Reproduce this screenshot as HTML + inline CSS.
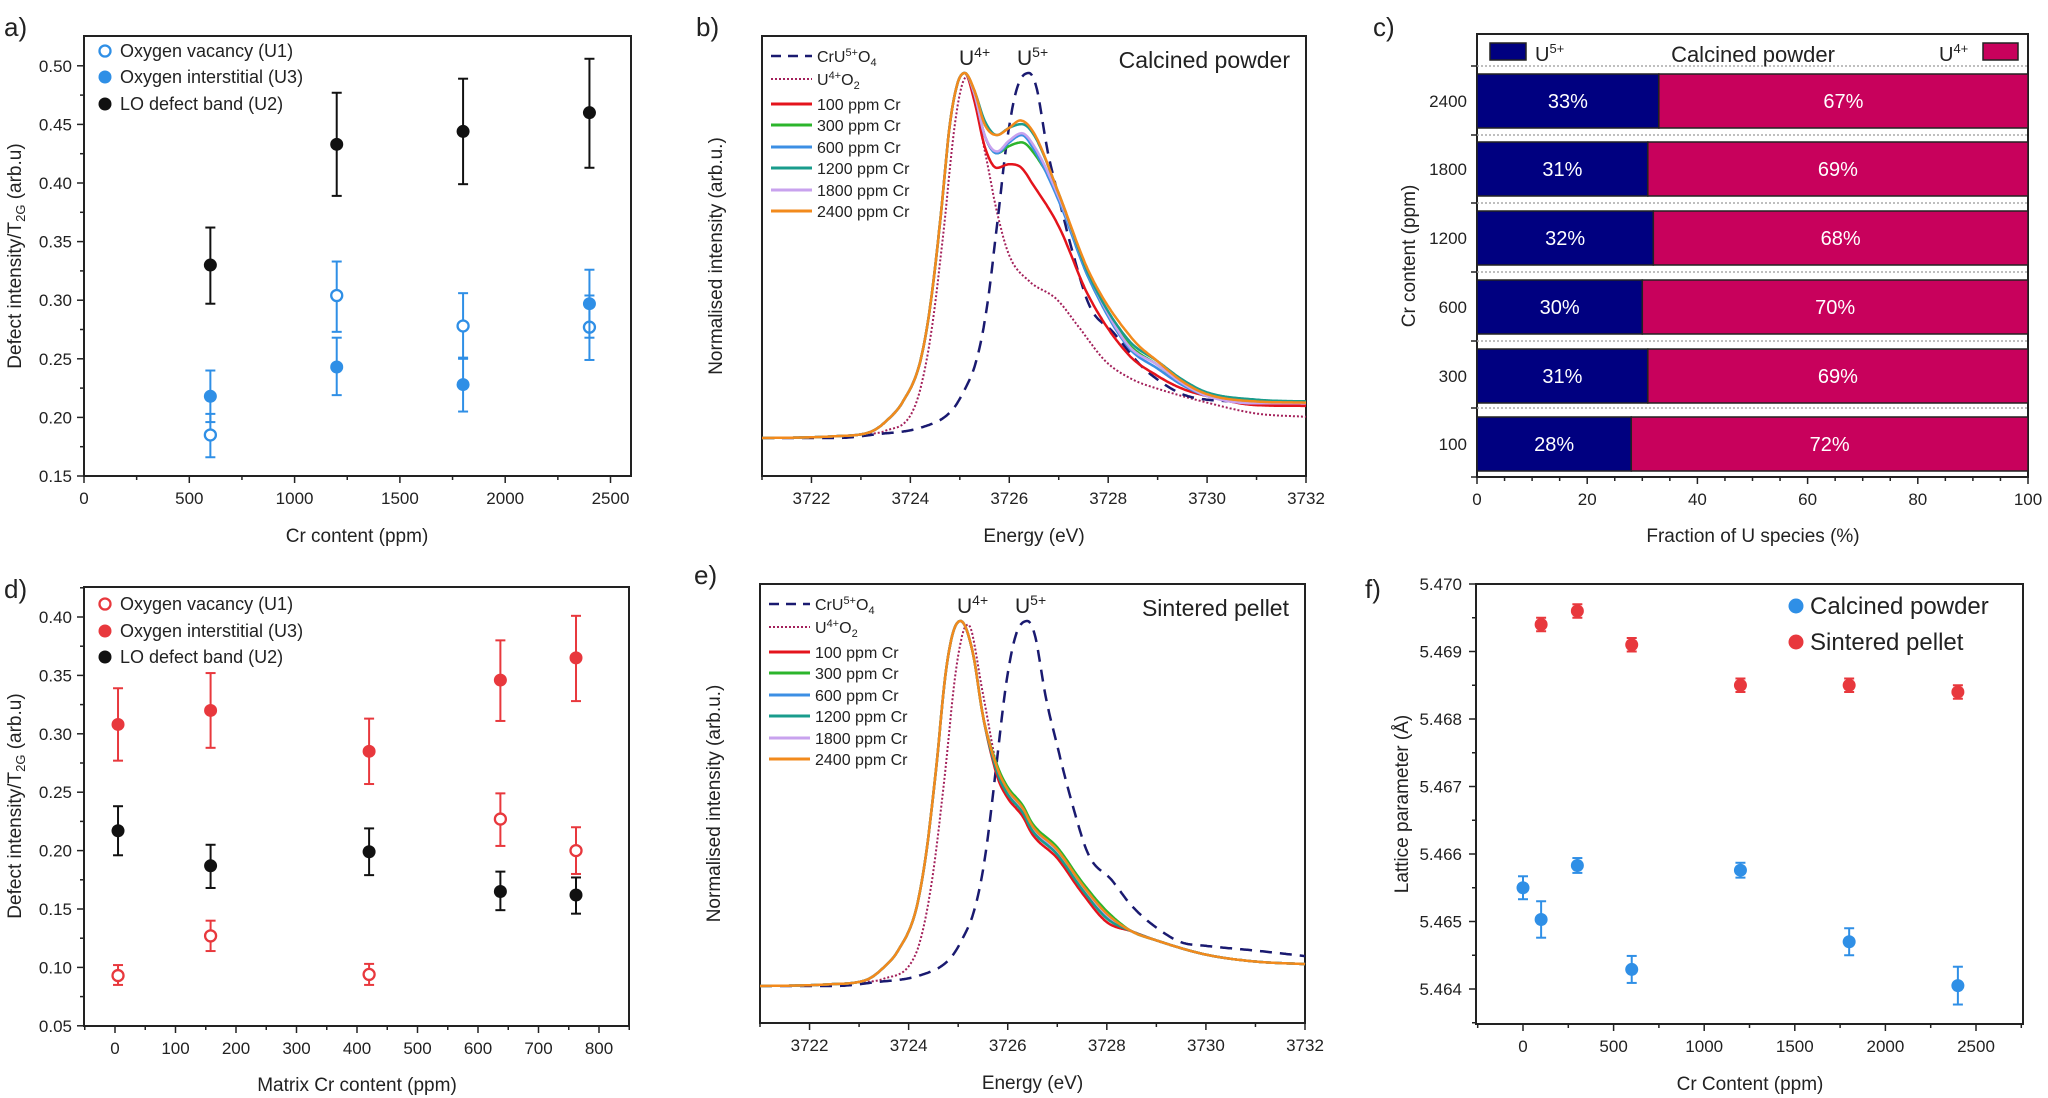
<!DOCTYPE html>
<html><head><meta charset="utf-8"><style>
html,body{margin:0;padding:0;background:#fff;overflow:hidden}
svg{display:block}
text{font-family:"Liberation Sans Narrow","Liberation Sans",Arial,sans-serif;fill:#222}
</style></head><body>
<svg id="s" width="2048" height="1098" viewBox="0 0 2048 1098" xmlns="http://www.w3.org/2000/svg"></svg>
<script>
var o=[];
function L(x1,y1,x2,y2,c,w,d){o.push('<line x1="'+x1+'" y1="'+y1+'" x2="'+x2+'" y2="'+y2+'" stroke="'+(c||'#222')+'" stroke-width="'+(w||1.5)+'"'+(d?' stroke-dasharray="'+d+'"':'')+'/>');}
function T(x,y,s,sz,anc,extra){o.push('<text x="'+x+'" y="'+y+'" font-size="'+sz+'" text-anchor="'+(anc||'start')+'" '+(extra||'')+'>'+s+'</text>');}
function R(x,y,w,h,f,st){o.push('<rect x="'+x+'" y="'+y+'" width="'+w+'" height="'+h+'" fill="'+f+'"'+(st?' stroke="'+st+'" stroke-width="1.5"':'')+'/>');}
function box(l,t,r,b){o.push('<rect x="'+l+'" y="'+t+'" width="'+(r-l)+'" height="'+(b-t)+'" fill="none" stroke="#222" stroke-width="2"/>');}
function C(x,y,r,c,open){ if(open) o.push('<circle cx="'+x+'" cy="'+y+'" r="'+(r-1)+'" fill="#fff" stroke="'+c+'" stroke-width="2.3"/>'); else o.push('<circle cx="'+x+'" cy="'+y+'" r="'+r+'" fill="'+c+'"/>');}
function EB(x,y1,y2,c){L(x,y1,x,y2,c,2);L(x-5,y1,x+5,y1,c,2);L(x-5,y2,x+5,y2,c,2);}
function mono(pts){var n=pts.length,xs=pts.map(p=>p[0]),ys=pts.map(p=>p[1]),d=[],m=[];
for(var i=0;i<n-1;i++)d.push((ys[i+1]-ys[i])/(xs[i+1]-xs[i]));
m[0]=d[0];m[n-1]=d[n-2];for(i=1;i<n-1;i++){m[i]=(d[i-1]*d[i]<=0)?0:(d[i-1]+d[i])/2;}
for(i=0;i<n-1;i++){if(d[i]==0){m[i]=0;m[i+1]=0;continue;}var a=m[i]/d[i],b=m[i+1]/d[i],h=a*a+b*b;if(h>9){var t=3/Math.sqrt(h);m[i]=t*a*d[i];m[i+1]=t*b*d[i];}}
return function(x){var k=0;while(k<n-2&&x>xs[k+1])k++;var hh=xs[k+1]-xs[k],t=(x-xs[k])/hh,t2=t*t,t3=t2*t;
return (2*t3-3*t2+1)*ys[k]+(t3-2*t2+t)*hh*m[k]+(-2*t3+3*t2)*ys[k+1]+(t3-t2)*hh*m[k+1];};}
function spec(pts,X,Y,c,w,d){var f=mono(pts),s='';for(var E=3721;E<=3732.001;E+=0.02){s+=(s?'L':'M')+X(E).toFixed(1)+' '+Y(f(E)).toFixed(1);}
o.push('<path d="'+s+'" fill="none" stroke="'+c+'" stroke-width="'+(w||2.5)+'"'+(d?' stroke-dasharray="'+d+'"':'')+'/>');}
var TS=17,AS=19,LS=26;

// ===== Panel a =====
(function(){var l=84,t=36,r=631,b=476;var X=v=>l+v/500*105.3,Y=v=>b-(v-0.15)/0.05*58.6;
box(l,t,r,b);
for(var v=0;v<=2500;v+=250){var x=X(v);L(x,b,x,b+(v%500?4:7));if(v%500==0)T(x,b+28,v,TS,'middle');}
for(var k=0;k<=7;k++){var y=Y(0.15+k*0.05);L(l-7,y,l,y);T(l-12,y+6,(0.15+k*0.05).toFixed(2),TS,'end');if(k<7)L(l-4,y-29.3,l,y-29.3);}
T(4,36,'a)',LS);
T(357,542,'Cr content (ppm)',AS,'middle');
o.push('<text transform="translate(21,256) rotate(-90)" font-size="'+AS+'" text-anchor="middle">Defect intensity/T<tspan font-size="13" dy="4">2G</tspan><tspan dy="-4"> (arb.u)</tspan></text>');
var blk=[[600,.33,.297,.362],[1200,.433,.389,.477],[1800,.444,.399,.489],[2400,.46,.413,.506]];
var op=[[600,.185,.166,.203],[1200,.304,.273,.333],[1800,.278,.250,.306],[2400,.277,.249,.304]];
var fi=[[600,.218,.196,.240],[1200,.243,.219,.268],[1800,.228,.205,.251],[2400,.297,.268,.326]];
var bl='#2f8fe6';
blk.forEach(p=>{EB(X(p[0]),Y(p[2]),Y(p[3]),'#111');C(X(p[0]),Y(p[1]),6.5,'#111');});
op.forEach(p=>{EB(X(p[0]),Y(p[2]),Y(p[3]),bl);C(X(p[0]),Y(p[1]),6.5,bl,1);});
fi.forEach(p=>{EB(X(p[0]),Y(p[2]),Y(p[3]),bl);C(X(p[0]),Y(p[1]),6.5,bl);});
C(105,51,6.5,bl,1);T(120,57,'Oxygen vacancy (U1)',18);
C(105,77,6.5,bl);T(120,83,'Oxygen interstitial (U3)',18);
C(105,104,6.5,'#111');T(120,110,'LO defect band (U2)',18);
})();

// ===== Panel d =====
(function(){var l=84,t=587,r=629,b=1026;var X=v=>115+v*0.605,Y=v=>617+(0.40-v)/0.05*58.4;
box(l,t,r,b);
for(var v=-50;v<=850;v+=50){var x=X(v);L(x,b,x,b+(v%100?4:7));if(v%100==0&&v>=0)T(x,b+28,v,TS,'middle');}
for(var k=0;k<=7;k++){var val=0.05+k*0.05,y=Y(val);L(l-7,y,l,y);T(l-12,y+6,val.toFixed(2),TS,'end');L(l-4,y-29.2,l,y-29.2);}
T(4,598,'d)',LS);
T(357,1091,'Matrix Cr content (ppm)',AS,'middle');
o.push('<text transform="translate(21,806) rotate(-90)" font-size="'+AS+'" text-anchor="middle">Defect intensity/T<tspan font-size="13" dy="4">2G</tspan><tspan dy="-4"> (arb.u)</tspan></text>');
var rd='#e8383d';
var f=[[5,.308,.277,.339],[158,.320,.288,.352],[420,.285,.257,.313],[637,.346,.311,.380],[762,.365,.328,.401]];
var op=[[5,.093,.085,.102],[158,.127,.114,.140],[420,.094,.085,.103],[637,.227,.204,.249],[762,.200,.180,.220]];
var k2=[[5,.217,.196,.238],[158,.187,.168,.205],[420,.199,.179,.219],[637,.165,.149,.182],[762,.162,.146,.177]];
f.forEach(p=>{EB(X(p[0]),Y(p[2]),Y(p[3]),rd);C(X(p[0]),Y(p[1]),6.5,rd);});
op.forEach(p=>{EB(X(p[0]),Y(p[2]),Y(p[3]),rd);C(X(p[0]),Y(p[1]),6.5,rd,1);});
k2.forEach(p=>{EB(X(p[0]),Y(p[2]),Y(p[3]),'#111');C(X(p[0]),Y(p[1]),6.5,'#111');});
C(105,604,6.5,rd,1);T(120,610,'Oxygen vacancy (U1)',18);
C(105,631,6.5,rd);T(120,637,'Oxygen interstitial (U3)',18);
C(105,657,6.5,'#111');T(120,663,'LO defect band (U2)',18);
})();

// ===== spectra panels =====
var cols={red:'#e4141c',green:'#2cb52c',blue:'#3c8fe4',teal:'#1a9c8c',lilac:'#c8a2ee',orange:'#f28a1c'};
function specPanel(l,t,r,b,base,title,lab,sets){
 var X=E=>l+(E-3721)*(r-l)/11,Y=I=>base-I*365;
 box(l,t,r,b);
 for(var E=3721;E<=3732;E+=0.5){var x=X(E);var maj=(E%2==0);if(E%1==0)L(x,b,x,b+(maj?7:4));if(maj)T(x,b+28,E,TS,'middle');}
 T(l-66,t,lab,LS);
 T((l+r)/2,b+66,'Energy (eV)',AS,'middle');
 o.push('<text transform="translate('+(l-40)+','+((t+b)/2)+') rotate(-90)" font-size="'+AS+'" text-anchor="middle">Normalised intensity (arb.u.)</text>');
 sets.forEach(s=>spec(s[0],X,Y,s[1],s[2],s[3]));
 T(r-16,t+32,title,23,'end');
 o.push('<text x="'+(l+197)+'" y="'+(t+29)+'" font-size="21">U<tspan font-size="14" dy="-8">4+</tspan></text>');
 o.push('<text x="'+(l+255)+'" y="'+(t+29)+'" font-size="21">U<tspan font-size="14" dy="-8">5+</tspan></text>');
 var lx=l+9,tx=l+55,rows=[20,43,68,89,111,132,154,175];
 L(lx,t+rows[0],lx+41,t+rows[0],'#1a1a70',2.5,'10,7');
 o.push('<text x="'+tx+'" y="'+(t+rows[0]+6)+'" font-size="16">CrU<tspan font-size="11" dy="-6">5+</tspan><tspan dy="6">O</tspan><tspan font-size="11" dy="4">4</tspan></text>');
 L(lx,t+rows[1],lx+41,t+rows[1],'#a3205a',2,'2,2');
 o.push('<text x="'+tx+'" y="'+(t+rows[1]+6)+'" font-size="16">U<tspan font-size="11" dy="-6">4+</tspan><tspan dy="6">O</tspan><tspan font-size="11" dy="4">2</tspan></text>');
 var nm=['100','300','600','1200','1800','2400'],cc=['red','green','blue','teal','lilac','orange'];
 for(var i=0;i<6;i++){L(lx,t+rows[i+2],lx+41,t+rows[i+2],cols[cc[i]],3);T(tx,t+rows[i+2]+6,nm[i]+' ppm Cr',16);}
}
var rise=[[3721,0],[3722,0.002],[3722.5,0.005],[3723,0.01],[3723.25,0.02],[3723.5,0.045],[3723.85,0.10],[3724.2,0.21],[3724.4,0.36],[3724.6,0.59],[3724.8,0.86],[3724.95,0.97],[3725.1,1.0]];
function tail(a){return rise.concat(a);}
var dashHead=[[3721,0],[3722.5,0],[3723.3,0.01],[3724.25,0.03],[3724.8,0.07],[3725.05,0.12],[3725.35,0.22],[3725.55,0.36],[3725.75,0.58],[3725.96,0.82],[3726.16,0.96],[3726.4,1.0],[3726.55,0.96],[3726.77,0.79],[3726.96,0.68],[3727.3,0.5],[3727.63,0.36],[3728.1,0.29]];
var dashB=dashHead.concat([[3728.65,0.2],[3729,0.16],[3729.5,0.12],[3730,0.105],[3731,0.1],[3732,0.1]]);
var dotHead=[[3721,0],[3722,0.001],[3722.5,0.005],[3723,0.01],[3723.5,0.02],[3724.1,0.09],[3724.4,0.27],[3724.65,0.54],[3724.9,0.86],[3725.05,0.97],[3725.15,0.99]];
var dotB=dotHead.concat([[3725.5,0.79],[3725.75,0.62],[3726,0.5],[3726.4,0.43],[3726.96,0.38],[3727.4,0.305],[3727.95,0.21],[3728.5,0.16],[3729,0.135],[3730,0.097],[3731,0.067],[3732,0.058]]);
var red=tail([[3725.3,0.92],[3725.5,0.8],[3725.75,0.74],[3726,0.75],[3726.2,0.745],[3726.5,0.69],[3727,0.58],[3727.6,0.39],[3728.4,0.23],[3729,0.17],[3729.5,0.135],[3730,0.115],[3731,0.09],[3732,0.088]]);
var grn=tail([[3725.3,0.94],[3725.5,0.83],[3725.75,0.78],[3726,0.8],[3726.25,0.81],[3726.5,0.78],[3727,0.66],[3727.6,0.44],[3728.4,0.26],[3729,0.2],[3729.5,0.15],[3730,0.12],[3731,0.1],[3732,0.1]]);
var blu=tail([[3725.3,0.94],[3725.5,0.83],[3725.75,0.78],[3726,0.81],[3726.25,0.83],[3726.5,0.79],[3727,0.65],[3727.6,0.44],[3728.4,0.25],[3729,0.19],[3729.5,0.145],[3730,0.115],[3731,0.095],[3732,0.095]]);
var lil=tail([[3725.3,0.94],[3725.5,0.83],[3725.75,0.785],[3726,0.815],[3726.25,0.835],[3726.5,0.8],[3727,0.66],[3727.6,0.45],[3728.4,0.255],[3729,0.2],[3729.5,0.15],[3730,0.115],[3731,0.095],[3732,0.095]]);
var tea=tail([[3725.3,0.95],[3725.5,0.87],[3725.75,0.83],[3726,0.85],[3726.25,0.86],[3726.5,0.83],[3727,0.67],[3727.6,0.45],[3728.4,0.27],[3729,0.21],[3729.5,0.16],[3730,0.125],[3731,0.105],[3732,0.1]]);
var org=tail([[3725.3,0.95],[3725.5,0.86],[3725.75,0.83],[3726,0.85],[3726.22,0.87],[3726.5,0.835],[3727,0.67],[3727.63,0.45],[3728.5,0.27],[3729,0.21],[3729.5,0.155],[3730,0.12],[3731,0.1],[3732,0.097]]);
specPanel(762,36,1306,476,438,'Calcined powder','b)',[
 [dotB,'#a3205a',2,'2,2'],[dashB,'#1a1a70',2.5,'12,8'],
 [red,cols.red],[grn,cols.green],[blu,cols.blue],[lil,cols.lilac],[tea,cols.teal],[org,cols.orange]]);

var riseE=rise.map(p=>[p[0]-0.05,p[1]]);riseE[0]=[3721,0];
var tl=[[3725.3,0.91],[3725.5,0.74],[3725.8,0.585],[3726,0.53],[3726.3,0.48],[3726.5,0.43],[3727,0.365],[3727.5,0.27],[3728,0.19],[3728.5,0.15],[3729,0.125],[3730,0.086],[3731,0.067],[3732,0.06]];
function vt(dv){return riseE.concat(tl.map((p,i)=>[p[0],p[1]+(i>1&&i<9?dv:0)]));}
var dashE=dashHead.concat([[3728.5,0.22],[3729,0.16],[3729.5,0.12],[3730,0.11],[3731,0.097],[3732,0.082]]);
var dotE=dotHead.map(p=>[p[0]+(p[0]>3724?0.05:0),p[1]]).concat([[3725.5,0.8],[3725.8,0.59],[3726,0.53],[3726.5,0.43],[3727,0.365],[3727.5,0.27],[3728,0.19],[3728.5,0.15],[3729,0.125],[3730,0.086],[3731,0.067],[3732,0.06]]);
specPanel(760,584,1305,1023,986,'Sintered pellet','e)',[
 [dotE,'#a3205a',2,'2,2'],[dashE,'#1a1a70',2.5,'12,8'],
 [vt(-0.015),cols.red],[vt(0.015),cols.green],[vt(0),cols.blue],[vt(0.005),cols.lilac],[vt(-0.005),cols.teal],[vt(0.008),cols.orange]]);

// ===== Panel c =====
(function(){var l=1477,t=34,r=2028,b=477;var X=v=>l+v*5.51;
var nv='#000080',pk='#c8015c';
box(l,t,r,b);
[66,135,203,272,341,408].forEach(y=>{L(l,y,r,y,'#aaa',1.5,'2,2');L(l-6,y,l,y);});
L(l-6,b,l,b);
var d=[[2400,33],[1800,31],[1200,32],[600,30],[300,31],[100,28]],cy=[101,169,238,307,376,444];
d.forEach((p,i)=>{var y=cy[i]-27;R(l,y,X(p[1])-l,54,nv,'#222');R(X(p[1]),y,r-X(p[1]),54,pk,'#222');
 T((l+X(p[1]))/2,cy[i]+7,p[1]+'%',20,'middle','style="fill:#fff"');
 T((X(p[1])+r)/2,cy[i]+7,(100-p[1])+'%',20,'middle','style="fill:#fff"');
 T(1467,cy[i]+6,p[0],TS,'end');});
for(var v=0;v<=100;v+=5){var x=X(v);L(x,b,x,b+(v%20?4:7));if(v%20==0)T(x,b+28,v,TS,'middle');}
T(1373,36,'c)',LS);
R(1490,43,36,17,nv,'#222');R(1983,43,35,17,pk,'#222');
o.push('<text x="1535" y="61" font-size="20">U<tspan font-size="13" dy="-8">5+</tspan></text>');
o.push('<text x="1939" y="61" font-size="20">U<tspan font-size="13" dy="-8">4+</tspan></text>');
T(1753,62,'Calcined powder',22,'middle');
T(1753,542,'Fraction of U species (%)',AS,'middle');
o.push('<text transform="translate(1415,256) rotate(-90)" font-size="'+AS+'" text-anchor="middle">Cr content (ppm)</text>');
})();

// ===== Panel f =====
(function(){var l=1476,t=584,r=2023,b=1024;var X=v=>1523+v/500*90.6,Y=v=>584+(5.470-v)/0.001*67.5;
box(l,t,r,b);
for(var v=-250;v<=2750;v+=250){var x=X(v);L(x,b,x,b+(v%500?4:7));if(v%500==0)T(x,b+28,v,TS,'middle');}
for(var k=0;k<=6;k++){var val=5.464+k*0.001,y=Y(val);L(l-7,y,l,y);T(1462,y+6,val.toFixed(3),TS,'end');L(l-4,y+33.75,l,y+33.75);}
T(1365,598,'f)',LS);
T(1750,1090,'Cr Content (ppm)',AS,'middle');
o.push('<text transform="translate(1408,804) rotate(-90)" font-size="'+AS+'" text-anchor="middle">Lattice parameter (Å)</text>');
var rd='#e8383d',bl='#2f8fe6';
[[100,5.4694],[300,5.4696],[600,5.4691],[1200,5.4685],[1800,5.4685],[2400,5.4684]].forEach(p=>{EB(X(p[0]),Y(p[1]-0.0001),Y(p[1]+0.0001),rd);C(X(p[0]),Y(p[1]),6.5,rd);});
[[0,5.4655,0.00017],[100,5.46503,0.00027],[300,5.46583,0.00011],[600,5.46429,0.0002],[1200,5.46576,0.00011],[1800,5.4647,0.0002],[2400,5.46405,0.00028]].forEach(p=>{EB(X(p[0]),Y(p[1]-p[2]),Y(p[1]+p[2]),bl);C(X(p[0]),Y(p[1]),6.5,bl);});
C(1796,606,7.5,bl);T(1810,614,'Calcined powder',24);
C(1796,642,7.5,rd);T(1810,650,'Sintered pellet',24);
})();
document.getElementById('s').innerHTML=o.join('');
</script>
</body></html>
